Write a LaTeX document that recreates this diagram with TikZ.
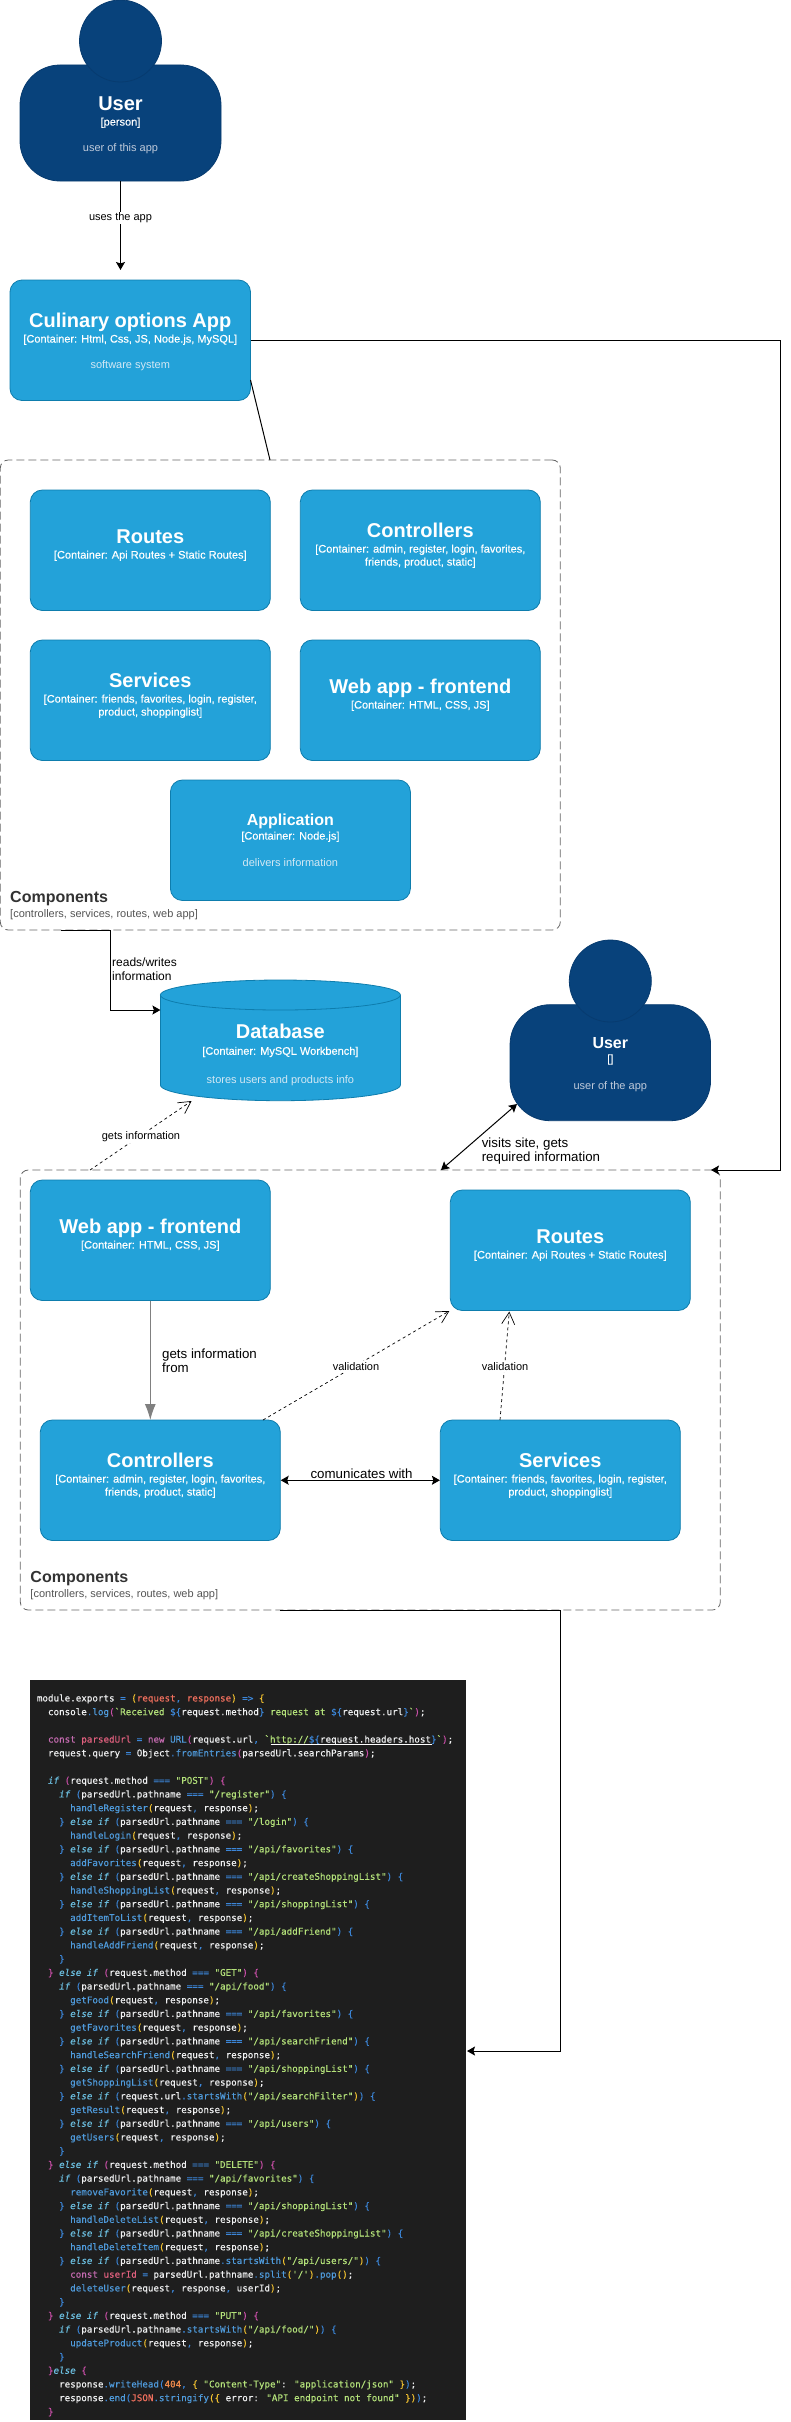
\documentclass[tikz,border=0pt]{standalone}
\usepackage{fontspec}
\setmainfont{Liberation Sans}
\newfontfamily\subfont[FakeBold=0.3]{Liberation Sans}
\newfontfamily\codefont[FakeBold=0.25]{DejaVu Sans Mono}
\usetikzlibrary{arrows.meta,calc}
\definecolor{boxfill}{HTML}{23A2D9}
\definecolor{boxline}{HTML}{0E7DAD}
\definecolor{userfill}{HTML}{08427B}
\definecolor{userline}{HTML}{073B6F}
\definecolor{descblue}{HTML}{D3E8F4}
\definecolor{descuser}{HTML}{BFCADA}
\definecolor{framegrey}{HTML}{666666}
\definecolor{codebg}{HTML}{1E1E1E}
\definecolor{cW}{HTML}{F0F1F2}
\definecolor{cF}{HTML}{4F9BDC}
\definecolor{cK}{HTML}{6CBFE0}
\definecolor{cS}{HTML}{B4E27A}
\definecolor{cR}{HTML}{F2705E}
\definecolor{cV}{HTML}{E0607E}
\definecolor{cP}{HTML}{C56BB0}
\definecolor{cG}{HTML}{F2C230}
\definecolor{cM}{HTML}{C94FA8}
\definecolor{cB}{HTML}{3C86D8}
\definecolor{cN}{HTML}{F08A4B}
\def\qW#1{\textcolor{cW}{#1}}
\def\qF#1{\textcolor{cF}{#1}}
\def\qK#1{\textcolor{cK}{\itshape #1}}
\def\qS#1{\textcolor{cS}{#1}}
\def\qR#1{\textcolor{cR}{#1}}
\def\qV#1{\textcolor{cV}{#1}}
\def\qP#1{\textcolor{cP}{#1}}
\def\qG#1{\textcolor{cG}{#1}}
\def\qM#1{\textcolor{cM}{#1}}
\def\qB#1{\textcolor{cB}{#1}}
\def\qN#1{\textcolor{cN}{#1}}
\tikzset{
  x=1pt,y=-1pt,
  cont/.style={draw=boxline,fill=boxfill,rounded corners=12pt,line width=0.8pt,inner sep=0pt},
  ubody/.style={draw=userline,fill=userfill,rounded corners=40pt,line width=0.8pt,inner sep=0pt},
  uhead/.style={circle,draw=userline,fill=userfill,line width=0.8pt,inner sep=0pt,minimum size=82pt},
  frame/.style={draw=framegrey,line width=0.8pt,dash pattern=on 8pt off 4pt,rounded corners=8pt},
  ttlL/.style={white,font=\fontsize{20}{24}\selectfont\bfseries,inner sep=0pt},
  ttlM/.style={white,font=\fontsize{16}{20}\selectfont\bfseries,inner sep=0pt},
  subw/.style={white,font=\subfont\fontsize{11}{13}\selectfont,inner sep=0pt},
  descb/.style={descblue,font=\fontsize{11}{13}\selectfont,inner sep=0pt},
  descu/.style={descuser,font=\fontsize{11}{13}\selectfont,inner sep=0pt},
  frttl/.style={black!80,font=\fontsize{16}{20}\selectfont\bfseries,inner sep=0pt,anchor=base west},
  frsub/.style={black!67,font=\fontsize{11}{13}\selectfont,inner sep=0pt,anchor=base west},
  lblS/.style={font=\fontsize{11}{13}\selectfont,fill=white,inner sep=1pt},
  lblT/.style={font=\fontsize{12}{14}\selectfont,inner sep=0pt,anchor=base west},
  lblB/.style={font=\fontsize{13.3}{14}\selectfont,inner sep=0pt,anchor=base west},
  blk/.style={-{Stealth[length=8pt,width=9pt,inset=1.5pt]},black,line width=1pt},
  blk2/.style={{Stealth[length=8pt,width=9pt,inset=1.5pt]}-{Stealth[length=8pt,width=9pt,inset=1.5pt]},black,line width=1pt},
  plain/.style={black,line width=1pt},
  dsh/.style={-{Straight Barb[length=12pt,width=13pt]},black,line width=0.7pt,dash pattern=on 3pt off 3pt},
  greyarrow/.style={-{Latex[length=16pt,width=11pt]},draw=black!50,fill=black!50,line width=1pt},
  codeline/.style={font=\codefont\fontsize{9.22}{11}\selectfont,inner sep=0pt,anchor=base west},
}
% box: name, left, top, width, height
\newcommand\cbox[5]{\node[cont,minimum width=#4pt,minimum height=#5pt] (#1) at ({#2+#4/2},{#3+#5/2}) {};}
% text in box: box, offset from top, style, text
\newcommand\btxt[4]{\node[#3,anchor=base] (#1-#2) at ([yshift=-#2pt]#1.north) {#4};}
% code lines
\newcommand\cl[3]{\node[codeline] (code#1) at ({36.7+5.55*#2},{1701.4+13.72*#1}) {#3};}
\newcommand\hd[2]{\cl{#1}{6}{\qF{#2}\qG{(}\qW{request}\qB{,} \qW{response}\qG{)}\qW{;}}}
\newcommand\ei[2]{\cl{#1}{4}{\qB{\}} \qK{else if} \qB{(}\qW{parsedUrl.pathname} \qB{===} \qS{"#2"}\qB{)} \qB{\{}}}
\newcommand\fp[2]{\cl{#1}{4}{\qK{if} \qB{(}\qW{parsedUrl.pathname} \qB{===} \qS{"#2"}\qB{)} \qB{\{}}}
\newcommand\cb[1]{\cl{#1}{4}{\qB{\}}}}
\newcommand\me[2]{\cl{#1}{2}{\qM{\}} \qK{else if} \qM{(}\qW{request.method} \qB{===} \qS{"#2"}\qM{)} \qM{\{}}}
\begin{document}
\begin{tikzpicture}
\useasboundingbox (0,0) rectangle (791,2422);

% dashed frames
\node[frame,minimum width=560pt,minimum height=470pt,inner sep=0pt] (frameA) at (280.3,695) {};
\node[frame,minimum width=700pt,minimum height=440pt,inner sep=0pt] (frameB) at (370.3,1390) {};

% first user
\node[ubody,minimum width=201pt,minimum height=116pt] (userA) at (120.5,123) {};
\node[uhead] (headA) at (120.5,41) {};
\btxt{userA}{46}{ttlL}{User}
\btxt{userA}{61}{subw}{[person]}
\btxt{userA}{87}{descu}{user of this app}

% system
\cbox{cul}{10}{280}{240.5}{120.5}
\btxt{cul}{48}{ttlL}{Culinary options App}
\btxt{cul}{63}{subw}{[Container: Html, Css, JS, Node.js, MySQL]}
\btxt{cul}{89}{descb}{software system}

% upper frame contents
\cbox{routesA}{30.3}{490}{240}{120.5}
\btxt{routesA}{54}{ttlL}{Routes}
\btxt{routesA}{69}{subw}{[Container: Api Routes + Static Routes]}
\cbox{ctrlA}{300.3}{490}{240}{120.5}
\btxt{ctrlA}{48}{ttlL}{Controllers}
\btxt{ctrlA}{63}{subw}{[Container: admin, register, login, favorites,}
\btxt{ctrlA}{76}{subw}{friends, product, static]}
\cbox{servA}{30.3}{640}{240}{120.5}
\btxt{servA}{48}{ttlL}{Services}
\btxt{servA}{63}{subw}{[Container: friends, favorites, login, register,}
\btxt{servA}{76}{subw}{product, shoppinglist]}
\cbox{webA}{300.3}{640}{240}{120.5}
\btxt{webA}{54}{ttlL}{Web app - frontend}
\btxt{webA}{69}{subw}{[Container: HTML, CSS, JS]}
\cbox{app}{170.4}{780}{240}{120.5}
\btxt{app}{46}{ttlM}{Application}
\btxt{app}{60}{subw}{[Container: Node.js]}
\btxt{app}{87}{descb}{delivers information}
\node[frttl] (frameAt) at (10,902) {Components};
\node[frsub] (frameAs) at (10,917) {[controllers, services, routes, web app]};

% database
\fill[boxfill] (160.4,995) -- (160.4,1085)
  .. controls (160.4,1093.5) and (214,1100.7) .. (280.4,1100.7)
  .. controls (346.8,1100.7) and (400.4,1093.5) .. (400.4,1085) -- (400.4,995) -- cycle;
\draw[boxline,line width=0.8pt] (160.4,995) -- (160.4,1085)
  .. controls (160.4,1093.5) and (214,1100.7) .. (280.4,1100.7)
  .. controls (346.8,1100.7) and (400.4,1093.5) .. (400.4,1085) -- (400.4,995);
\draw[boxline,fill=boxfill,line width=0.8pt] (280.4,995) ellipse [x radius=120,y radius=15];
\node[minimum width=240pt,minimum height=120.7pt,inner sep=0pt] (db) at (280.4,1040.3) {};
\btxt{db}{59}{ttlL}{Database}
\btxt{db}{75}{subw}{[Container: MySQL Workbench]}
\btxt{db}{104}{descb}{stores users and products info}

% second user
\node[ubody,minimum width=200.5pt,minimum height=116pt] (userB) at (610.3,1062.7) {};
\node[uhead] (headB) at (610.3,981) {};
\btxt{userB}{44}{ttlM}{User}
\btxt{userB}{58}{subw}{[]}
\btxt{userB}{85}{descu}{user of the app}

% lower frame contents
\cbox{webB}{30.3}{1180}{240}{120.5}
\btxt{webB}{54}{ttlL}{Web app - frontend}
\btxt{webB}{69}{subw}{[Container: HTML, CSS, JS]}
\cbox{routesB}{450.3}{1190}{240}{120.5}
\btxt{routesB}{54}{ttlL}{Routes}
\btxt{routesB}{69}{subw}{[Container: Api Routes + Static Routes]}
\cbox{ctrlB}{40.3}{1420}{240}{120.5}
\btxt{ctrlB}{48}{ttlL}{Controllers}
\btxt{ctrlB}{63}{subw}{[Container: admin, register, login, favorites,}
\btxt{ctrlB}{76}{subw}{friends, product, static]}
\cbox{servB}{440.3}{1420}{240}{120.5}
\btxt{servB}{48}{ttlL}{Services}
\btxt{servB}{63}{subw}{[Container: friends, favorites, login, register,}
\btxt{servB}{76}{subw}{product, shoppinglist]}
\node[frttl] (frameBt) at (30.3,1582) {Components};
\node[frsub] (frameBs) at (30.3,1597) {[controllers, services, routes, web app]};

% code panel
\fill[codebg] (30,1680) rectangle (466,2420);
\node[inner sep=0pt,minimum width=436pt,minimum height=740pt] (code) at (248,2050) {};

% free connector ends
\coordinate (culIn) at (120.5,270);
\coordinate (culOff) at (250.5,380);
\coordinate (frameATop) at (270,460);
\coordinate (rightEdgeA) at (780.5,340.25);
\coordinate (rightEdgeB) at (780.5,1170);
\coordinate (frameBIn) at (711,1170);
\coordinate (aBotA) at (61,930);
\coordinate (aBotB) at (110.4,930);
\coordinate (aBotC) at (110.4,1010);
\coordinate (dbIn) at (160.4,1010);
\coordinate (giA) at (90,1170);
\coordinate (giB) at (191.6,1101);
\coordinate (visA) at (441,1170);
\coordinate (visB) at (517,1104);
\coordinate (valAa) at (263,1420);
\coordinate (valAb) at (449.3,1311);
\coordinate (valBa) at (500,1420);
\coordinate (valBb) at (509.3,1311.5);
\coordinate (grA) at (150.3,1300.5);
\coordinate (grB) at (150.3,1420);
\coordinate (bBotA) at (280.3,1610);
\coordinate (bBotB) at (560.3,1610);
\coordinate (bBotC) at (560.3,2051);
\coordinate (codeIn) at (467,2051);

% connectors
\draw[blk] (userA.south) -- (culIn);
\node[lblS] (lblUses) at (120.5,218) {uses the app};
\draw[blk] (cul.east) -- (rightEdgeA) -- (rightEdgeB) -- (frameBIn);
\draw[plain] (culOff) -- (frameATop);
\draw[blk] (aBotA) -- (aBotB) -- (aBotC) -- (dbIn);
\draw[dsh] (giA) -- (giB);
\node[lblS] (lblGets) at (141,1137) {gets information};
\draw[blk2] (visA) -- (visB);
\draw[greyarrow] (grA) -- (grB);
\draw[dsh] (valAa) -- (valAb);
\node[lblS] (lblValA) at (356,1366.5) {validation};
\draw[dsh] (valBa) -- (valBb);
\node[lblS] (lblValB) at (505,1366.5) {validation};
\draw[blk2] (ctrlB.east) -- (servB.west);
\draw[blk] (bBotA) -- (bBotB) -- (bBotC) -- (codeIn);

% connector captions
\node[lblT] (lblR1) at (112,966.5) {reads/writes};
\node[lblT] (lblR2) at (112,980) {information};
\node[lblB] (lblV1) at (481.6,1147) {visits site, gets};
\node[lblB] (lblV2) at (481.6,1161) {required information};
\node[lblB] (lblF1) at (162,1358.5) {gets information};
\node[lblB] (lblF2) at (162,1372.5) {from};
\node[lblB,anchor=base] (lblC) at (361.6,1478) {comunicates with};

% code text
\cl{0}{0}{\qW{module.exports} \qB{=} \qG{(}\qR{request}\qB{,} \qR{response}\qG{)} \qB{=>} \qG{\{}}
\cl{1}{2}{\qW{console}\qB{.}\qF{log}\qM{(}\qS{`Received} \qB{\$\{}\qW{request.method}\qB{\}} \qS{request at} \qB{\$\{}\qW{request.url}\qB{\}}\qS{`}\qM{)}\qW{;}}
\cl{3}{2}{\qP{const} \qV{parsedUrl} \qB{=} \qP{new} \qF{URL}\qM{(}\qW{request.url}\qB{,} \qS{`}\qS{http://}\qB{\$\{}\qW{request.headers.host}\qB{\}}\qS{`}\qM{)}\qW{;}}
\draw[white,line width=0.7pt] (270.7,1744.5) -- (431.7,1744.5);
\cl{4}{2}{\qW{request.query} \qB{=} \qW{Object}\qB{.}\qF{fromEntries}\qM{(}\qW{parsedUrl.searchParams}\qM{)}\qW{;}}
\cl{6}{2}{\qK{if} \qM{(}\qW{request.method} \qB{===} \qS{"POST"}\qM{)} \qM{\{}}
\fp{7}{/register}
\hd{8}{handleRegister}
\ei{9}{/login}
\hd{10}{handleLogin}
\ei{11}{/api/favorites}
\hd{12}{addFavorites}
\ei{13}{/api/createShoppingList}
\hd{14}{handleShoppingList}
\ei{15}{/api/shoppingList}
\hd{16}{addItemToList}
\ei{17}{/api/addFriend}
\hd{18}{handleAddFriend}
\cb{19}
\me{20}{GET}
\fp{21}{/api/food}
\hd{22}{getFood}
\ei{23}{/api/favorites}
\hd{24}{getFavorites}
\ei{25}{/api/searchFriend}
\hd{26}{handleSearchFriend}
\ei{27}{/api/shoppingList}
\hd{28}{getShoppingList}
\cl{29}{4}{\qB{\}} \qK{else if} \qB{(}\qW{request.url}\qB{.}\qF{startsWith}\qG{(}\qS{"/api/searchFilter"}\qG{)}\qB{)} \qB{\{}}
\hd{30}{getResult}
\ei{31}{/api/users}
\hd{32}{getUsers}
\cb{33}
\me{34}{DELETE}
\fp{35}{/api/favorites}
\hd{36}{removeFavorite}
\ei{37}{/api/shoppingList}
\hd{38}{handleDeleteList}
\ei{39}{/api/createShoppingList}
\hd{40}{handleDeleteItem}
\cl{41}{4}{\qB{\}} \qK{else if} \qB{(}\qW{parsedUrl.pathname}\qB{.}\qF{startsWith}\qG{(}\qS{"/api/users/"}\qG{)}\qB{)} \qB{\{}}
\cl{42}{6}{\qP{const} \qV{userId} \qB{=} \qW{parsedUrl.pathname}\qB{.}\qF{split}\qG{(}\qS{'/'}\qG{)}\qB{.}\qF{pop}\qG{()}\qW{;}}
\cl{43}{6}{\qF{deleteUser}\qG{(}\qW{request}\qB{,} \qW{response}\qB{,} \qW{userId}\qG{)}\qW{;}}
\cb{44}
\me{45}{PUT}
\cl{46}{4}{\qK{if} \qB{(}\qW{parsedUrl.pathname}\qB{.}\qF{startsWith}\qG{(}\qS{"/api/food/"}\qG{)}\qB{)} \qB{\{}}
\hd{47}{updateProduct}
\cb{48}
\cl{49}{2}{\qM{\}}\qK{else} \qM{\{}}
\cl{50}{4}{\qW{response}\qB{.}\qF{writeHead}\qB{(}\qN{404}\qB{,} \qG{\{} \qS{"Content-Type"}\qW{:} \qS{"application/json"} \qG{\}}\qB{)}\qW{;}}
\cl{51}{4}{\qW{response}\qB{.}\qF{end}\qB{(}\qR{JSON}\qB{.}\qF{stringify}\qG{(\{} \qW{error:} \qS{"API endpoint not found"} \qG{\})}\qB{)}\qW{;}}
\cl{52}{2}{\qM{\}}}
\end{tikzpicture}
\end{document}
